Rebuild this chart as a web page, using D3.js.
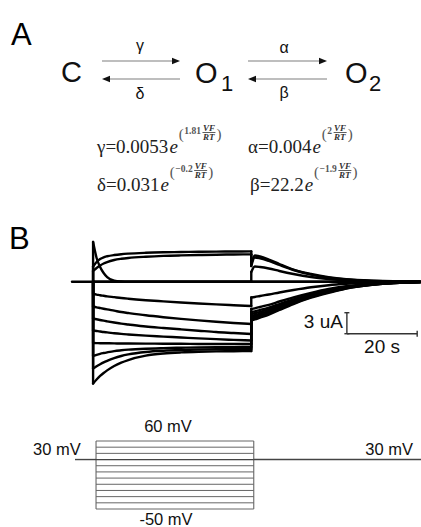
<!DOCTYPE html>
<html>
<head>
<meta charset="utf-8">
<script src="https://cdn.jsdelivr.net/npm/d3@7/dist/d3.min.js"></script>
<style>
  html, body { margin: 0; padding: 0; background: #fff; }
  svg { display: block; }
</style>
</head>
<body>
<svg id="chart" width="421" height="527"></svg>
<script>
// ---------------- DATA ----------------
// Kinetic scheme rate constants (panel A)
const rateNames = ["γ", "α", "δ", "β"];
const rateCoefs = ["0.0053", "0.004", "0.031", "22.2"];
const rateExps  = ["1.81", "2", "−0.2", "−1.9"];

// Voltage protocol (panel B), mV
const holdingVoltage = 30;
const stepVoltages = [60, 50, 40, 30, 20, 10, 0, -10, -20, -30, -40, -50];
const protocolTimes = [-6, 0, 45, 93]; // s: start, step on, step off, end

// Current traces (uA) during the step, sampled at stepTimes (s)
const stepTimes = [0, 1, 2, 3, 4, 6, 8, 10, 15, 20, 25, 30, 35, 40, 45];
const stepCurrents = [
  [2.17, 2.81, 3.24, 3.49, 3.63, 3.81, 3.93, 4.01, 4.13, 4.20, 4.24, 4.27, 4.30, 4.31, 4.33],          // 60 mV
  [1.53, 1.96, 2.31, 2.60, 2.81, 3.10, 3.27, 3.39, 3.57, 3.69, 3.76, 3.81, 3.86, 3.89, 3.91],          // 50 mV
  [5.67, 3.39, 2.10, 1.24, 0.67, 0.14, 0.03, 0, 0, 0, 0, 0, 0, 0, 0],                                // 40 mV
  [0, 0, 0, 0, 0, 0, 0, 0, 0, 0, 0, 0, 0, 0, 0],                                                     // 30 mV
  [-1.76, -1.84, -1.93, -2.01, -2.09, -2.21, -2.33, -2.43, -2.64, -2.81, -2.97, -3.11, -3.24, -3.36, -3.47], // 20 mV
  [-3.54, -3.66, -3.76, -3.86, -3.96, -4.14, -4.33, -4.47, -4.80, -5.07, -5.31, -5.53, -5.73, -5.90, -6.04], // 10 mV
  [-5.26, -5.37, -5.47, -5.57, -5.66, -5.83, -5.99, -6.11, -6.40, -6.61, -6.81, -7.00, -7.19, -7.33, -7.47], // 0 mV
  [-6.97, -7.04, -7.11, -7.19, -7.24, -7.36, -7.46, -7.54, -7.71, -7.84, -7.97, -8.10, -8.21, -8.31, -8.40], // -10 mV
  [-8.76, -8.77, -8.79, -8.79, -8.80, -8.81, -8.83, -8.83, -8.84, -8.86, -8.87, -8.89, -8.90, -8.90, -8.91], // -20 mV
  [-10.61, -10.44, -10.30, -10.19, -10.09, -9.91, -9.80, -9.71, -9.57, -9.49, -9.43, -9.39, -9.36, -9.34, -9.33], // -30 mV
  [-12.40, -12.07, -11.79, -11.53, -11.30, -10.91, -10.61, -10.39, -10.04, -9.86, -9.76, -9.70, -9.66, -9.63, -9.61], // -40 mV
  [-14.54, -13.97, -13.47, -13.04, -12.67, -12.04, -11.56, -11.19, -10.57, -10.26, -10.10, -10.01, -9.96, -9.93, -9.90]  // -50 mV
];

// Tail currents (uA) back at 30 mV, sampled at tailTimes (s)
const tailTimes = [45, 46, 47.5, 50, 53, 57, 62, 67, 72, 80, 93];
const tailCurrents = [
  [2.53, 3.74, 3.60, 3.17, 2.53, 1.74, 1.10, 0.63, 0.34, 0.13, 0.01],       // 60 mV
  [2.24, 3.46, 3.34, 2.96, 2.39, 1.67, 1.01, 0.59, 0.31, 0.11, 0.01],       // 50 mV
  [1.39, 2.17, 2.10, 1.89, 1.53, 1.10, 0.67, 0.39, 0.20, 0.07, 0.01],       // 40 mV
  [0, 0, 0, 0, 0, 0, 0, 0, 0, 0, 0],                                        // 30 mV
  [-2.26, -2.19, -2.04, -1.83, -1.54, -1.19, -0.80, -0.50, -0.30, -0.11, -0.01], // 20 mV
  [-3.90, -3.80, -3.61, -3.30, -2.83, -2.23, -1.59, -1.04, -0.64, -0.27, -0.04], // 10 mV
  [-4.33, -4.23, -4.04, -3.70, -3.19, -2.51, -1.80, -1.19, -0.73, -0.31, -0.04], // 0 mV
  [-4.61, -4.51, -4.30, -3.94, -3.40, -2.69, -1.93, -1.30, -0.80, -0.34, -0.06], // -10 mV
  [-4.90, -4.79, -4.57, -4.19, -3.61, -2.86, -2.04, -1.40, -0.87, -0.37, -0.06], // -20 mV
  [-5.11, -4.99, -4.76, -4.36, -3.76, -2.97, -2.13, -1.47, -0.91, -0.39, -0.06], // -30 mV
  [-5.33, -5.19, -4.94, -4.53, -3.90, -3.09, -2.21, -1.53, -0.94, -0.40, -0.06], // -40 mV
  [-5.54, -5.39, -5.13, -4.70, -4.04, -3.19, -2.29, -1.59, -0.97, -0.41, -0.06]  // -50 mV
];

// Scale bars
const scaleBarCurrent = 3;   // uA
const scaleBarTime = 20;     // s
const scaleBarLabels = ["3 uA", "20 s"];

// ---------------- DRAWING ----------------
const svg = d3.select("#chart");
const SANS = "'Liberation Sans', Arial, Helvetica, sans-serif";
const SERIF = "'Liberation Serif', 'Times New Roman', serif";

// Panel labels
svg.append("text").attr("x", 11).attr("y", 45).attr("font-family", SANS)
  .attr("font-size", 31).text("A");
svg.append("text").attr("x", 9).attr("y", 249).attr("font-family", SANS)
  .attr("font-size", 31).text("B");

// ----- Panel A: kinetic scheme -----
const scheme = svg.append("g").attr("font-family", SANS).attr("fill", "#111");
scheme.append("text").attr("x", 61).attr("y", 82).attr("font-size", 29).text("C");
scheme.append("text").attr("x", 195).attr("y", 83).attr("font-size", 29).text("O");
scheme.append("text").attr("x", 221).attr("y", 91).attr("font-size", 22).text("1");
scheme.append("text").attr("x", 345).attr("y", 83).attr("font-size", 29).text("O");
scheme.append("text").attr("x", 369).attr("y", 91).attr("font-size", 22).text("2");

function arrow(x1, x2, y) {
  const dir = Math.sign(x2 - x1);
  const tip = x2, back = x2 - dir * 8;
  scheme.append("line").attr("x1", x1).attr("x2", back).attr("y1", y).attr("y2", y)
    .attr("stroke", "#a8a8a8").attr("stroke-width", 1.3);
  scheme.append("path")
    .attr("d", `M${tip},${y} L${back},${y - 3.2} L${back},${y + 3.2} Z`)
    .attr("fill", "#111");
}
arrow(102, 180, 61);
arrow(180, 102, 79);
arrow(248, 327, 61);
arrow(327, 248, 79);

const greekPos = [
  { x: 140, y: 51, t: rateNames[0] },
  { x: 140, y: 99, t: rateNames[2] },
  { x: 284, y: 53, t: rateNames[1] },
  { x: 284, y: 98, t: rateNames[3] }
];
scheme.selectAll("text.greek").data(greekPos).enter().append("text")
  .attr("class", "greek").attr("x", d => d.x).attr("y", d => d.y)
  .attr("text-anchor", "middle").attr("font-size", 16).text(d => d.t);

// Rate equations
const eqPos = [
  { x: 97, y: 153 }, { x: 248, y: 153 }, { x: 97, y: 191 }, { x: 250, y: 191 }
];
rateNames.forEach((name, i) => {
  const p = eqPos[i];
  const g = svg.append("g").attr("font-family", SERIF).attr("fill", "#222");
  const t = g.append("text").attr("x", p.x).attr("y", p.y).attr("font-size", 19);
  t.append("tspan").text(name + "=" + rateCoefs[i]);
  t.append("tspan").attr("font-style", "italic").attr("dx", 1).text("e");
  const w = t.node().getComputedTextLength();
  let ex = p.x + w + 2;
  const base = p.y;
  const lp = g.append("text").attr("x", ex).attr("y", base - 14).attr("font-size", 15)
    .attr("fill", "#555").text("(");
  ex += lp.node().getComputedTextLength() + 0.5;
  const num = g.append("text").attr("x", ex).attr("y", base - 19).attr("font-size", 9.5)
    .attr("font-weight", "bold").attr("fill", "#555").text(rateExps[i]);
  ex += num.node().getComputedTextLength() + 2;
  const vf = g.append("text").attr("x", ex).attr("y", base - 22.5).attr("font-size", 9)
    .attr("font-style", "italic").attr("font-weight", "bold").attr("fill", "#333").text("VF");
  const rt = g.append("text").attr("x", ex).attr("y", base - 13).attr("font-size", 9)
    .attr("font-style", "italic").attr("font-weight", "bold").attr("fill", "#333").text("RT");
  const fw = Math.max(vf.node().getComputedTextLength(), rt.node().getComputedTextLength());
  g.append("line").attr("x1", ex - 0.5).attr("x2", ex + fw + 0.5)
    .attr("y1", base - 20.5).attr("y2", base - 20.5).attr("stroke", "#333").attr("stroke-width", 0.8);
  g.append("text").attr("x", ex + fw + 1.5).attr("y", base - 14).attr("font-size", 15)
    .attr("fill", "#555").text(")");
});

// ----- Panel B: current traces -----
const x = d3.scaleLinear().domain([-6, 93]).range([72, 420]);
const y = d3.scaleLinear().domain([-15, 6]).range([386.7, 239.7]);

const traces = svg.append("g").attr("fill", "none").attr("stroke", "#000")
  .attr("stroke-width", 2.4).attr("stroke-linejoin", "round").attr("stroke-linecap", "round");

const curveLine = d3.line().x(d => x(d[0])).y(d => y(d[1])).curve(d3.curveMonotoneX);
const straight = d3.line().x(d => x(d[0])).y(d => y(d[1]));

// baseline (holding current)
traces.append("path").attr("d", straight([[protocolTimes[0], 0], [protocolTimes[3], 0]]));

stepVoltages.forEach((v, i) => {
  const sc = stepCurrents[i], tc = tailCurrents[i];
  const stepPts = stepTimes.map((t, k) => [t, sc[k]]);
  const tailPts = tailTimes.map((t, k) => [t, tc[k]]);
  traces.append("path").attr("d", straight([[0, 0], [0, sc[0]]]));
  traces.append("path").attr("d", curveLine(stepPts));
  traces.append("path").attr("d", straight([[45, sc[sc.length - 1]], [45, tc[0]]]));
  traces.append("path").attr("d", curveLine(tailPts));
});

// Scale bars
const sbT = 72.2, sbI = -4.43;
const sb = svg.append("g").attr("stroke", "#333").attr("stroke-width", 1.4).attr("fill", "none");
sb.append("line").attr("x1", x(sbT)).attr("x2", x(sbT))
  .attr("y1", y(sbI)).attr("y2", y(sbI - scaleBarCurrent));
sb.append("line").attr("x1", x(sbT) - 2.5).attr("x2", x(sbT) + 2.5)
  .attr("y1", y(sbI)).attr("y2", y(sbI));
sb.append("line").attr("x1", x(sbT) - 2.5).attr("x2", x(sbT) + 2.5)
  .attr("y1", y(sbI - scaleBarCurrent)).attr("y2", y(sbI - scaleBarCurrent));
sb.append("line").attr("x1", x(sbT)).attr("x2", x(sbT + scaleBarTime))
  .attr("y1", y(sbI - scaleBarCurrent)).attr("y2", y(sbI - scaleBarCurrent));
sb.append("line").attr("x1", x(sbT + scaleBarTime)).attr("x2", x(sbT + scaleBarTime))
  .attr("y1", y(sbI - scaleBarCurrent) - 3).attr("y2", y(sbI - scaleBarCurrent) + 3);

svg.append("text").attr("x", x(sbT) - 4).attr("y", 328).attr("text-anchor", "end")
  .attr("font-family", SANS).attr("font-size", 19).attr("fill", "#111").text(scaleBarLabels[0]);
svg.append("text").attr("x", x(sbT + scaleBarTime / 2)).attr("y", 353).attr("text-anchor", "middle")
  .attr("font-family", SANS).attr("font-size", 19).attr("fill", "#111").text(scaleBarLabels[1]);

// ----- Voltage protocol -----
const vx = d3.scaleLinear().domain([-6, 93]).range([75, 422]);
const vy = d3.scaleLinear().domain([-50, 60]).range([509, 441]);
const prot = svg.append("g").attr("fill", "none");

prot.selectAll("line.lvl").data(stepVoltages).enter().append("line")
  .attr("class", "lvl")
  .attr("x1", vx(protocolTimes[1])).attr("x2", vx(protocolTimes[2]))
  .attr("y1", d => vy(d)).attr("y2", d => vy(d))
  .attr("stroke", "#666").attr("stroke-width", 1);
[protocolTimes[1], protocolTimes[2]].forEach(t => {
  prot.append("line").attr("x1", vx(t)).attr("x2", vx(t))
    .attr("y1", vy(d3.max(stepVoltages))).attr("y2", vy(d3.min(stepVoltages)))
    .attr("stroke", "#666").attr("stroke-width", 1.1);
});
prot.append("line").attr("x1", vx(protocolTimes[0])).attr("x2", vx(protocolTimes[1]))
  .attr("y1", vy(holdingVoltage)).attr("y2", vy(holdingVoltage))
  .attr("stroke", "#444").attr("stroke-width", 1.4);
prot.append("line").attr("x1", vx(protocolTimes[2])).attr("x2", vx(protocolTimes[3]))
  .attr("y1", vy(holdingVoltage)).attr("y2", vy(holdingVoltage))
  .attr("stroke", "#444").attr("stroke-width", 1.4);
prot.append("line").attr("x1", vx(protocolTimes[1])).attr("x2", vx(protocolTimes[2]))
  .attr("y1", vy(holdingVoltage)).attr("y2", vy(holdingVoltage))
  .attr("stroke", "#444").attr("stroke-width", 1.2);

const vlab = svg.append("g").attr("font-family", SANS).attr("font-size", 16.5).attr("fill", "#111");
vlab.append("text").attr("x", 168).attr("y", 432).attr("text-anchor", "middle")
  .text(d3.max(stepVoltages) + " mV");
vlab.append("text").attr("x", 166).attr("y", 525).attr("text-anchor", "middle")
  .text(d3.min(stepVoltages) + " mV");
vlab.append("text").attr("x", 33).attr("y", 455).text(holdingVoltage + " mV");
vlab.append("text").attr("x", 413).attr("y", 455).attr("text-anchor", "end").text(holdingVoltage + " mV");
</script>
</body>
</html>
